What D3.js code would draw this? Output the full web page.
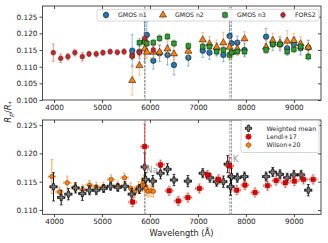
<!DOCTYPE html>
<html><head><meta charset="utf-8">
<script src="https://cdn.jsdelivr.net/npm/d3@7/dist/d3.min.js"></script>
<style>body{margin:0;background:#fff}svg{display:block;font-family:"DejaVu Sans",sans-serif}</style>
</head><body><svg id="c" width="328" height="243"></svg>
<script>
// ---------- DATA ----------
const xTicks = [4000,5000,6000,7000,8000,9000];
const topYTicks = [0.100,0.105,0.110,0.115,0.120,0.125];
const botYTicks = [0.110,0.115,0.120,0.125];
const lineNa = [5890,5896];
const lineK = [7665,7699];

// top panel
const gmosWl = [5630,5780,5890,5935,6070,6200,6365,6500,6800,7100,7240,7390,7530,7660,7700,7820,7970,8420,8560,8710,8860,9000,9140,9300];
const n1Val = [0.1148,0.1145,0.1175,0.1195,0.1118,0.1140,0.1135,0.1105,0.1127,0.1148,0.1142,0.1152,0.1135,0.1192,0.1170,0.1172,0.1150,0.1190,0.1168,0.1167,0.1155,0.1167,0.1155,0.1157];
const n1Err = [0.0048,0.0020,0.0060,0.0040,0.0025,0.0025,0.0030,0.0030,0.0025,0.0020,0.0020,0.0020,0.0020,0.0060,0.0030,0.0020,0.0020,0.0025,0.0020,0.0020,0.0020,0.0020,0.0020,0.0022];
const n2Val = [0.1060,0.1105,0.1155,0.1145,0.1145,0.1145,0.1155,0.1140,0.1148,0.1182,0.1170,0.1160,0.1173,0.1160,0.1145,0.1155,0.1185,0.1160,0.1180,0.1172,0.1178,0.1180,0.1170,0.1160];
const n2Err = [0.0045,0.0030,0.0030,0.0020,0.0020,0.0020,0.0020,0.0020,0.0020,0.0020,0.0020,0.0020,0.0030,0.0030,0.0020,0.0020,0.0020,0.0020,0.0020,0.0020,0.0030,0.0020,0.0020,0.0020];
const n3Val = [0.1133,0.1172,0.1175,0.1170,0.1172,0.1185,0.1190,0.1170,0.1162,0.1160,0.1160,0.1145,0.1150,0.1135,0.1142,0.1145,0.1145,0.1150,0.1167,0.1167,0.1145,0.1152,0.1160,0.1130];
const n3Err = [0.0010,0.0012,0.0012,0.0010,0.0010,0.0010,0.0010,0.0010,0.0010,0.0010,0.0010,0.0010,0.0010,0.0015,0.0012,0.0010,0.0010,0.0010,0.0010,0.0010,0.0010,0.0010,0.0010,0.0010];
const forsWl = [3985,4140,4290,4435,4590,4730,4880,5020,5170,5320,5460,5630,5780,5890,6070];
const forsVal = [0.1142,0.1125,0.1130,0.1142,0.1130,0.1138,0.1138,0.1142,0.1145,0.1143,0.1145,0.1132,0.1142,0.1185,0.1150];
const forsErr = [0.0026,0.0013,0.0010,0.0010,0.0013,0.0008,0.0009,0.0008,0.0008,0.0008,0.0009,0.0010,0.0010,0.0015,0.0010];

// bottom panel
const wmWl = [3990,4150,4300,4450,4590,4740,4880,5035,5180,5330,5480,5620,5780,5890,5910,6060,6220,6365,6500,6790,7100,7250,7390,7530,7620,7680,7700,7820,7970,8420,8560,8710,8860,9000,9150,9300];
const wmVal = [0.1141,0.1122,0.1128,0.1139,0.1129,0.1135,0.1135,0.1138,0.1142,0.1140,0.1142,0.1128,0.1137,0.1176,0.1154,0.1151,0.1165,0.1172,0.1153,0.1151,0.1165,0.1157,0.1150,0.1150,0.1181,0.1141,0.1159,0.1157,0.1159,0.1159,0.1167,0.1163,0.1157,0.1162,0.1162,0.1135];
const wmErr = [0.0025,0.0013,0.0010,0.0009,0.0012,0.0008,0.0008,0.0007,0.0007,0.0007,0.0008,0.0010,0.0008,0.0025,0.0012,0.0010,0.0010,0.0010,0.0010,0.0010,0.0008,0.0008,0.0008,0.0010,0.0015,0.0015,0.0015,0.0008,0.0008,0.0008,0.0008,0.0008,0.0008,0.0008,0.0008,0.0010];
const wmHalf = 75;
const lenWl = [5640,5890,6220,6400,6590,6790,7030,7200,7430,7660,7810,7980,8190,8450,8630,8820,9010,9200,9400];
const lenVal = [0.1114,0.1212,0.1180,0.1134,0.1116,0.1122,0.1138,0.1162,0.1154,0.1178,0.1135,0.1144,0.1131,0.1143,0.1152,0.1148,0.1151,0.1154,0.1154];
const lenErr = [0.0008,0.0040,0.0008,0.0008,0.0008,0.0008,0.0008,0.0008,0.0008,0.0015,0.0008,0.0008,0.0008,0.0008,0.0008,0.0008,0.0008,0.0008,0.0008];
const lenHalf = 80;
const wilWl = [3955,4115,4275,4430,4600,4740,4880,5030,5190,5330,5470,5600,5680,5760,5840,5870,5895,5920,5960,6020,6070];
const wilVal = [0.1159,0.1132,0.1148,0.1140,0.1136,0.1144,0.1141,0.1141,0.1154,0.1143,0.1157,0.1138,0.1132,0.1140,0.1145,0.1150,0.1143,0.1138,0.1133,0.1134,0.1133];
const wilErr = [0.0030,0.0008,0.0012,0.0008,0.0008,0.0008,0.0008,0.0008,0.0008,0.0008,0.0008,0.0010,0.0010,0.0010,0.0012,0.0012,0.0012,0.0012,0.0010,0.0010,0.0010];
const wilHalf = [75,75,75,75,75,75,75,75,75,75,75,40,40,40,20,15,15,20,30,30,30];

// ---------- DRAW ----------
const svg = d3.select('#c');
const L = 42.5, R = 321;
const x = d3.scaleLinear().domain([3760,9565]).range([L,R]);
const yT = d3.scaleLinear().domain([0.100,0.1282]).range([100,6]);
const yB = d3.scaleLinear().domain([0.10924,0.1259]).range([214.3,120]);

function frame(y, top, bot, yTicks){
  const g = svg.append('g');
  g.append('g').attr('transform',`translate(0,${bot})`)
    .call(d3.axisBottom(x).tickValues(xTicks).tickSize(3).tickPadding(2).tickFormat(d3.format('d')));
  g.append('g').attr('transform',`translate(0,${top})`)
    .call(d3.axisTop(x).tickValues(xTicks).tickSize(-3).tickFormat(''));
  g.append('g').attr('transform',`translate(${L},0)`)
    .call(d3.axisLeft(y).tickValues(yTicks).tickSize(3).tickPadding(2).tickFormat(d3.format('.3f')));
  g.append('g').attr('transform',`translate(${R},0)`)
    .call(d3.axisRight(y).tickValues(yTicks).tickSize(-3).tickFormat(''));
  g.selectAll('.domain').remove();
  g.selectAll('.tick line').attr('stroke','#222').attr('stroke-width',0.8);
  g.selectAll('.tick text').attr('font-size',7.3).attr('fill','#222').attr('font-family','DejaVu Sans');
  g.append('rect').attr('x',L).attr('y',top).attr('width',R-L).attr('height',bot-top)
    .attr('fill','none').attr('stroke','#222').attr('stroke-width',0.8);
}

function vlines(y, top, bot){
  [...lineNa, ...lineK].forEach(w=>{
    svg.append('line').attr('x1',x(w)).attr('x2',x(w)).attr('y1',top).attr('y2',bot)
      .attr('stroke','#999').attr('stroke-width',1).attr('stroke-dasharray','2.5,1.2');
  });
}

const sym = {circle:d3.symbolCircle, square:d3.symbolSquare, triangle:d3.symbolTriangle, diamond:d3.symbolDiamond, cross:d3.symbolCross};

function series(y, wl, val, err, o){
  const g = svg.append('g');
  wl.forEach((w,i)=>{
    const cx = x(w), cy = y(val[i]);
    const y1 = y(val[i]-err[i]), y2 = y(val[i]+err[i]);
    g.append('line').attr('x1',cx).attr('x2',cx).attr('y1',y1).attr('y2',y2)
      .attr('stroke',o.ecol).attr('stroke-width',o.ew||0.9).attr('opacity',o.eop||1);
    if(o.cap){
      [y1,y2].forEach(yy=>g.append('line').attr('x1',cx-o.cap).attr('x2',cx+o.cap).attr('y1',yy).attr('y2',yy)
        .attr('stroke',o.ecol).attr('stroke-width',0.8).attr('opacity',o.eop||1));
    }
    if(o.half){
      const h = Array.isArray(o.half)?o.half[i]:o.half;
      g.append('line').attr('x1',x(w-h)).attr('x2',x(w+h)).attr('y1',cy).attr('y2',cy)
        .attr('stroke',o.ecol).attr('stroke-width',o.ew||0.9).attr('opacity',o.eop||1);
      if(o.cap){
        [x(w-h),x(w+h)].forEach(xx=>g.append('line').attr('x1',xx).attr('x2',xx).attr('y1',cy-o.cap).attr('y2',cy+o.cap)
          .attr('stroke',o.ecol).attr('stroke-width',0.8).attr('opacity',o.eop||1));
      }
    }
  });
  wl.forEach((w,i)=>{
    g.append('path').attr('d',d3.symbol().type(sym[o.shape]).size(o.size)())
      .attr('transform',`translate(${x(w)},${y(val[i])})${o.shape==='triangle'?' translate(0,0.5)':''}`)
      .attr('fill',o.fill).attr('stroke',o.stroke||'#000').attr('stroke-width',o.sw||0.5);
  });
}

// top panel
frame(yT, 6, 100, topYTicks);
vlines(yT, 6, 100);
const topSeries = [
  {wl:gmosWl,val:n1Val,err:n1Err,o:{shape:'circle',size:24,fill:'#1f77b4',ecol:'#1f77b4',eop:0.55,cap:1.5},name:'GMOS n1'},
  {wl:gmosWl,val:n2Val,err:n2Err,o:{shape:'triangle',size:22,fill:'#ff7f0e',ecol:'#ff7f0e',eop:0.55,cap:1.5},name:'GMOS n2'},
  {wl:gmosWl,val:n3Val,err:n3Err,o:{shape:'square',size:22,fill:'#2ca02c',ecol:'#2ca02c',eop:0.55,cap:1.5},name:'GMOS n3'},
  {wl:forsWl,val:forsVal,err:forsErr,o:{shape:'circle',size:18,fill:'#c0282a',ecol:'#e05050',eop:0.7,cap:1.5,stroke:'#6b1010'},name:'FORS2'}
];
topSeries.forEach(s=>series(yT,s.wl,s.val,s.err,s.o));

// top legend
(function(){
  const g = svg.append('g');
  g.append('rect').attr('x',97).attr('y',9.3).attr('width',222).attr('height',11.7).attr('rx',1.5)
    .attr('fill','rgba(255,255,255,0.85)').attr('stroke','#ccc').attr('stroke-width',0.8);
  const mx = [106,163,225,283];
  topSeries.forEach((s,i)=>{
    const cy = 15;
    g.append('line').attr('x1',mx[i]).attr('x2',mx[i]).attr('y1',cy-4).attr('y2',cy+4)
      .attr('stroke',s.o.ecol).attr('opacity',s.o.eop).attr('stroke-width',0.9);
    g.append('path').attr('d',d3.symbol().type(sym[s.o.shape]).size(s.o.size)())
      .attr('transform',`translate(${mx[i]},${cy})`).attr('fill',s.o.fill).attr('stroke',s.o.stroke||'#000').attr('stroke-width',0.5);
    g.append('text').attr('x',mx[i]+12).attr('y',cy+2.2).attr('font-size',6.2).attr('fill','#222').text(s.name);
  });
})();

// bottom panel
frame(yB, 120, 214.3, botYTicks);
vlines(yB, 120, 214.3);
const botSeries = [
  {wl:wilWl,val:wilVal,err:wilErr,o:{shape:'circle',size:16,fill:'#ff7f0e',ecol:'#ff7f0e',eop:0.8,cap:1.2,half:wilHalf,stroke:'#5a2a00'},name:'Wilson+20'},
  {wl:wmWl,val:wmVal,err:wmErr,o:{shape:'cross',size:22,fill:'#777',ecol:'#111',eop:1,cap:1.4,half:wmHalf,ew:1,sw:0.7},name:'Weighted mean'},
  {wl:lenWl,val:lenVal,err:lenErr,o:{shape:'square',size:20,fill:'#e00000',ecol:'#ff3030',eop:0.85,cap:1.4,half:lenHalf,stroke:'#900'},name:'Lendl+17'}
];
botSeries.forEach(s=>series(yB,s.wl,s.val,s.err,s.o));

svg.append('text').attr('x',x(5925)).attr('y',yB(0.1165)).attr('font-size',8.5).attr('fill','#999').text('Na');
svg.append('text').attr('x',x(7730)).attr('y',yB(0.1185)).attr('font-size',8.5).attr('fill','#999').text('K');

// bottom legend
(function(){
  const g = svg.append('g');
  g.append('rect').attr('x',241).attr('y',120.5).attr('width',78).attr('height',32).attr('rx',1.5)
    .attr('fill','rgba(255,255,255,0.85)').attr('stroke','#ccc').attr('stroke-width',0.8);
  const order = [botSeries[1],botSeries[2],botSeries[0]];
  const ys = [128.3,136.7,145];
  order.forEach((s,i)=>{
    const cx = 248.5, cy = ys[i];
    g.append('line').attr('x1',cx-3.5).attr('x2',cx+3.5).attr('y1',cy).attr('y2',cy).attr('stroke',s.o.ecol).attr('opacity',s.o.eop).attr('stroke-width',0.9);
    g.append('line').attr('x1',cx).attr('x2',cx).attr('y1',cy-3.5).attr('y2',cy+3.5).attr('stroke',s.o.ecol).attr('opacity',s.o.eop).attr('stroke-width',0.9);
    g.append('path').attr('d',d3.symbol().type(sym[s.o.shape]).size(s.o.size)())
      .attr('transform',`translate(${cx},${cy})`).attr('fill',s.o.fill).attr('stroke',s.o.stroke||'#000').attr('stroke-width',s.o.sw||0.5);
    g.append('text').attr('x',266.5).attr('y',cy+2.2).attr('font-size',6.3).attr('fill','#222').text(s.name);
  });
})();

// axis labels
svg.append('text').attr('x',181.5).attr('y',236).attr('text-anchor','middle').attr('font-size',8.3).attr('fill','#222').text('Wavelength (Å)');
const yl = svg.append('text').attr('transform','translate(11,112) rotate(-90)').attr('text-anchor','middle').attr('font-size',8.5).attr('fill','#222');
yl.append('tspan').attr('font-style','italic').text('R');
yl.append('tspan').attr('font-style','italic').attr('font-size',6).attr('dy',1.8).text('p');
yl.append('tspan').attr('dy',-1.8).text('/');
yl.append('tspan').attr('font-style','italic').text('R');
yl.append('tspan').attr('font-size',6).attr('dy',1.8).text('*');
</script></body></html>
